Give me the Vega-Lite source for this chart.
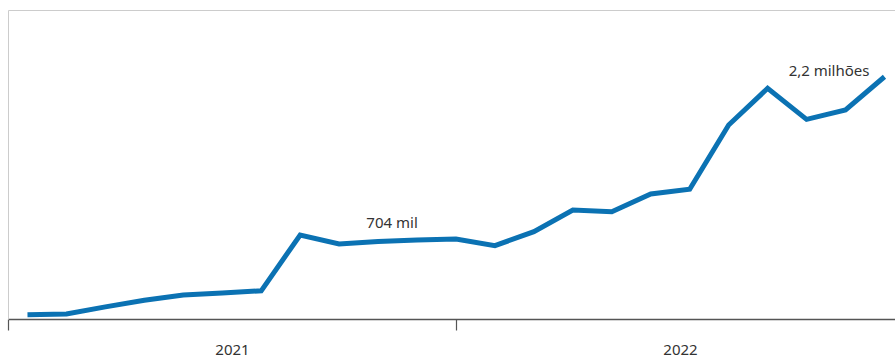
{
  "$schema": "https://vega.github.io/schema/vega-lite/v6.json",
  "autosize": {"type": "none"},
  "padding": {"left": 8, "top": 10, "right": 0, "bottom": 38},
  "width": 887,
  "height": 309,
  "background": "white",
  "config": {
    "view": {"stroke": null},
    "font": "Noto Sans"
  },
  "data": {
    "values": [
      {"i": 0, "mes": "2021-01", "total": 39000},
      {"i": 1, "mes": "2021-02", "total": 45000},
      {"i": 2, "mes": "2021-03", "total": 110000},
      {"i": 3, "mes": "2021-04", "total": 170000},
      {"i": 4, "mes": "2021-05", "total": 218000},
      {"i": 5, "mes": "2021-06", "total": 236000},
      {"i": 6, "mes": "2021-07", "total": 256000},
      {"i": 7, "mes": "2021-08", "total": 763000},
      {"i": 8, "mes": "2021-09", "total": 681000},
      {"i": 9, "mes": "2021-10", "total": 704000, "rotulo": "704 mil"},
      {"i": 10, "mes": "2021-11", "total": 717000},
      {"i": 11, "mes": "2021-12", "total": 726000},
      {"i": 12, "mes": "2022-01", "total": 666000},
      {"i": 13, "mes": "2022-02", "total": 793000},
      {"i": 14, "mes": "2022-03", "total": 990000},
      {"i": 15, "mes": "2022-04", "total": 974000},
      {"i": 16, "mes": "2022-05", "total": 1135000},
      {"i": 17, "mes": "2022-06", "total": 1178000},
      {"i": 18, "mes": "2022-07", "total": 1762000},
      {"i": 19, "mes": "2022-08", "total": 2095000},
      {"i": 20, "mes": "2022-09", "total": 1813000},
      {"i": 21, "mes": "2022-10", "total": 1898000},
      {"i": 22, "mes": "2022-11", "total": 2200000, "rotulo": "2,2 milhões"}
    ]
  },
  "encoding": {
    "x": {
      "field": "i",
      "type": "quantitative",
      "scale": {"domain": [-0.5, 22.27], "nice": false, "zero": false},
      "axis": {
        "title": null,
        "grid": false,
        "values": [-0.5, 5.25, 11, 16.75],
        "labelExpr": "datum.value == 5.25 ? '2021' : (datum.value == 16.75 ? '2022' : '')",
        "tickOpacity": {"expr": "datum.value == 5.25 || datum.value == 16.75 ? 0 : 1"},
        "domainColor": "#555555",
        "domainWidth": 1.5,
        "tickColor": "#555555",
        "tickWidth": 1.2,
        "tickSize": 11,
        "labelPadding": 12,
        "labelBaseline": "top",
        "labelFontSize": 15,
        "labelColor": "#333333",
        "labelFont": "Noto Sans"
      }
    },
    "y": {
      "field": "total",
      "type": "quantitative",
      "scale": {"domain": [0, 2806000], "nice": false},
      "axis": {
        "title": null,
        "labels": false,
        "ticks": false,
        "values": [2806000],
        "grid": true,
        "gridColor": "#cccccc",
        "gridWidth": 1,
        "domainColor": "#cccccc",
        "domainWidth": 1
      }
    }
  },
  "layer": [
    {
      "mark": {
        "type": "line",
        "color": "#0b72b3",
        "strokeWidth": 5,
        "strokeJoin": "miter",
        "strokeCap": "butt"
      }
    },
    {
      "transform": [{"filter": "datum.rotulo == '704 mil'"}],
      "mark": {
        "type": "text",
        "align": "center",
        "baseline": "alphabetic",
        "dx": 14,
        "dy": -13,
        "fontSize": 15,
        "color": "#333333",
        "font": "Noto Sans"
      },
      "encoding": {"text": {"field": "rotulo"}}
    },
    {
      "transform": [{"filter": "datum.rotulo == '2,2 milhões'"}],
      "mark": {
        "type": "text",
        "align": "right",
        "baseline": "alphabetic",
        "dx": -15,
        "dy": -1,
        "fontSize": 15,
        "color": "#333333",
        "font": "Noto Sans"
      },
      "encoding": {"text": {"field": "rotulo"}}
    }
  ]
}
